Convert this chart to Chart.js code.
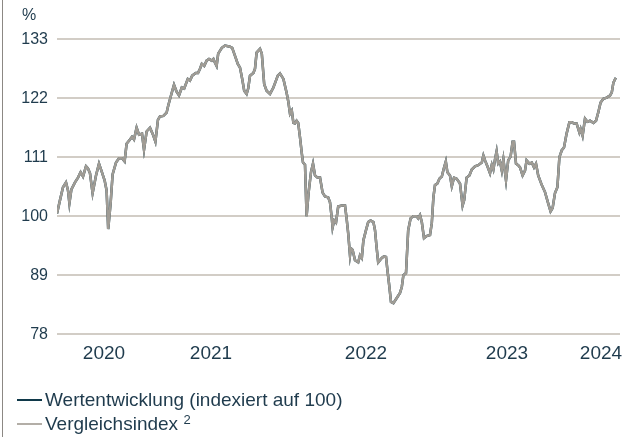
<!DOCTYPE html>
<html>
<head>
<meta charset="utf-8">
<script src="https://cdn.jsdelivr.net/npm/chart.js@4"></script>
<style>
  html, body { margin: 0; padding: 0; background: #fff; }
  #wrap { position: relative; width: 623px; height: 437px; overflow: hidden; }
  #edge { position: absolute; left: 2px; top: 0; width: 1px; height: 437px; background: #8c8884; }
  #legend { position: absolute; left: 17px; top: 388px; font: 19px "Liberation Sans", Arial, sans-serif; color: #1f3b4d; }
  .row { height: 24px; line-height: 24px; white-space: nowrap; }
  .mark { display: inline-block; width: 25px; height: 2px; vertical-align: middle; margin-right: 3px; position: relative; top: -1px; }
  sup { font-size: 13px; line-height: 0; vertical-align: 6px; }
</style>
</head>
<body>
<div id="wrap">
  <canvas id="chart" width="623" height="437"></canvas>
  <div id="edge"></div>
  <div id="legend">
    <div class="row"><span class="mark" style="background:#10394a"></span>Wertentwicklung (indexiert auf 100)</div>
    <div class="row"><span class="mark" style="background:#b3aea7"></span>Vergleichsindex <sup>2</sup></div>
  </div>
</div>
<script>
// time axis in weeks from the start of the series
const weeks = [
  0, 0.75, 1.5, 2.25, 2.75, 3.1, 3.6, 4.5, 5.25, 5.9, 6.5, 7.25, 7.75, 8.25, 8.9, 9.75, 10.5, 11.1, 11.9, 12.4,
  12.8, 13.4, 13.9, 14.75, 15.5, 16.25, 16.9, 17.4, 18.25, 18.75, 19.25, 19.9, 20.5, 21.25, 21.75, 22.4, 23.25, 24, 24.6, 25.25,
  25.75, 26.6, 27.4, 27.8, 28.5, 29.25, 29.9, 30.5, 31.2, 31.8, 32.7, 33.25, 33.8, 34.7, 35.25, 35.75, 36.2, 36.8, 37.4, 38,
  38.7, 39.1, 39.5, 39.9, 40.3, 41.2, 42, 43.25, 43.8, 44.5, 45.2, 45.75, 46.3, 46.8, 47.4, 47.8, 48.25, 49.1, 49.5, 49.9,
  50.75, 51.2, 51.8, 52.4, 53.25, 54.1, 55.2, 55.75, 56.6, 57.4, 57.8, 58.25, 58.7, 59.1, 59.5, 59.9, 60.3, 60.75, 61.2, 61.5,
  62, 62.4, 62.9, 63.5, 64, 64.5, 65.1, 65.75, 66.4, 67, 67.8, 68.25, 68.7, 68.9, 69.3, 69.75, 70.3, 71.2, 72, 72.4,
  72.8, 73.25, 73.5, 73.9, 74.5, 75.3, 75.75, 76.2, 76.6, 77.25, 77.8, 78.4, 79.1, 79.5, 79.9, 80.3, 81.2, 81.75, 82.25, 82.6,
  83.1, 83.5, 84.1, 84.9, 85.75, 86.2, 86.6, 87.25, 87.8, 88.4, 89.1, 89.9, 90.3, 90.75, 91.2, 91.75, 92.4, 93.25, 93.7, 94.1,
  94.5, 95.1, 95.6, 96.2, 96.7, 97.2, 97.6, 98.25, 98.7, 99.25, 99.9, 100.75, 101.4, 101.8, 102.4, 103.1, 103.7, 104.5, 105.3, 106.2,
  106.6, 107, 107.6, 108.25, 108.7, 109.1, 109.5, 109.9, 110.3, 110.75, 111.2, 111.6, 112.25, 112.8, 113.4, 113.9, 114.25, 114.75, 115.3, 115.75,
  116.4, 117, 117.4, 118.1, 118.7, 119.25, 119.75, 120.3, 121.2, 122, 122.8, 123.4, 123.9, 124.5, 125.1, 125.6, 126.2, 126.75, 127.4, 128.1,
  128.7, 129.25, 129.9, 130.6, 130.9, 131.4, 132, 132.6, 133.25, 134.1, 134.75, 135.3, 135.9, 136.6, 137.4, 138.25, 138.7, 139.1, 139.7
];

// Vergleichsindex (grey line)
const indexValues = [
  100.5, 103.0, 105.4, 106.3, 104.8, 102.4, 105.0, 106.3, 107.2, 108.2, 107.4, 109.3, 108.9, 108.0, 104.3, 107.6, 109.8, 108.5, 106.7, 104.8,
  97.6, 102.4, 107.8, 110.0, 110.8, 110.8, 110.2, 113.5, 114.3, 114.8, 114.3, 116.5, 115.2, 115.4, 112.4, 115.8, 116.5, 115.2, 113.9, 118.0,
  118.6, 118.7, 119.3, 120.6, 122.5, 124.5, 123.2, 122.5, 124.0, 123.8, 125.6, 125.3, 126.2, 126.7, 126.7, 127.5, 128.4, 128.0, 129.0, 129.3,
  129.0, 129.3, 128.6, 128.0, 130.3, 131.4, 131.8, 131.6, 131.4, 129.9, 128.4, 127.7, 125.6, 123.4, 122.8, 123.8, 126.2, 126.7, 127.5, 130.5,
  131.2, 130.3, 124.6, 123.4, 122.8, 124.0, 126.2, 126.6, 125.6, 123.0, 121.5, 119.1, 119.7, 117.4, 117.3, 117.8, 117.4, 114.7, 111.7, 110.0,
  109.6, 100.0, 104.4, 108.2, 109.8, 107.6, 107.2, 107.2, 104.4, 103.7, 103.5, 102.6, 99.6, 97.9, 99.2, 98.8, 101.8, 102.0, 102.0, 99.6,
  96.8, 92.7, 94.0, 93.7, 91.8, 91.4, 92.7, 92.2, 95.5, 97.4, 98.9, 99.2, 98.9, 97.4, 94.2, 91.4, 92.2, 92.5, 92.4, 90.0,
  86.8, 84.0, 83.8, 84.7, 85.7, 86.8, 89.0, 89.4, 97.4, 99.6, 100.0, 100.0, 99.6, 100.2, 98.9, 95.9, 96.3, 96.5, 98.7, 103.5,
  105.8, 106.1, 107.0, 107.4, 108.9, 110.2, 108.2, 107.6, 105.6, 107.2, 107.0, 106.1, 102.0, 103.0, 107.2, 107.6, 108.7, 109.3, 109.5, 110.0,
  111.3, 110.4, 109.3, 108.0, 109.6, 108.7, 110.6, 112.1, 109.8, 110.2, 108.5, 110.6, 106.7, 110.4, 111.1, 113.9, 113.9, 109.8, 109.5, 109.1,
  107.6, 108.5, 110.4, 109.8, 110.0, 109.1, 109.8, 107.6, 105.8, 104.5, 102.4, 100.9, 101.5, 104.3, 105.4, 111.0, 112.3, 112.8, 115.4, 117.5,
  117.5, 117.3, 117.3, 115.6, 116.3, 115.0, 118.2, 117.6, 117.8, 117.4, 117.8, 119.3, 121.2, 121.9, 122.1, 122.5, 123.1, 124.9, 125.8
];

// Wertentwicklung (navy line) runs under the index line in the picture
const fundValues = indexValues;

const yTicks = [78, 89, 100, 111, 122, 133];
const yearLabels = ["2020", "2021", "2022", "2023", "2024"];
const yearTicks = [11.75, 38.5, 77.25, 112.5, 136];

const textColor = "#1f3b4d";
const gridColor = "#d2cdc6";

function toPoints(vals) {
  return vals.map((v, i) => ({ x: weeks[i], y: v }));
}

const ctx = document.getElementById("chart").getContext("2d");

new Chart(ctx, {
  type: "line",
  data: {
    datasets: [
      {
        label: "Vergleichsindex",
        data: toPoints(indexValues),
        borderColor: "#a09c95",
        borderWidth: 2.5,
        pointRadius: 0,
        tension: 0,
        order: 1
      },
      {
        label: "Wertentwicklung (indexiert auf 100)",
        data: toPoints(fundValues),
        borderColor: "#10394a",
        borderWidth: 2.5,
        pointRadius: 0,
        tension: 0,
        order: 2
      }
    ]
  },
  options: {
    responsive: false,
    animation: false,
    layout: { padding: { left: 22, right: 3, top: 0, bottom: 64 } },
    plugins: {
      legend: { display: false },
      tooltip: { enabled: false },
      title: {
        display: true,
        text: "%",
        align: "start",
        color: textColor,
        font: { family: "Liberation Sans", size: 16, weight: "normal" },
        padding: { top: 6, bottom: 14 }
      }
    },
    scales: {
      x: {
        type: "linear",
        min: 0,
        max: 140.75,
        grid: { display: false, drawTicks: false },
        border: { display: false },
        afterBuildTicks: (axis) => {
          axis.ticks = yearTicks.map(v => ({ value: v }));
        },
        afterFit: (axis) => {
          axis.paddingLeft = 0;
          axis.paddingRight = 0;
        },
        ticks: {
          autoSkip: false,
          maxRotation: 0,
          padding: 8,
          color: textColor,
          font: { family: "Liberation Sans", size: 19 },
          callback: (value) => yearLabels[yearTicks.indexOf(value)]
        }
      },
      y: {
        min: 78,
        max: 133,
        afterBuildTicks: (axis) => {
          axis.ticks = yTicks.map(v => ({ value: v }));
        },
        afterFit: (axis) => {
          axis.width = 35;
        },
        grid: { color: gridColor, lineWidth: 2, drawTicks: false },
        border: { display: false },
        ticks: {
          padding: 9,
          color: textColor,
          font: { family: "Liberation Sans", size: 16 }
        }
      }
    }
  }
});
</script>
</body>
</html>
